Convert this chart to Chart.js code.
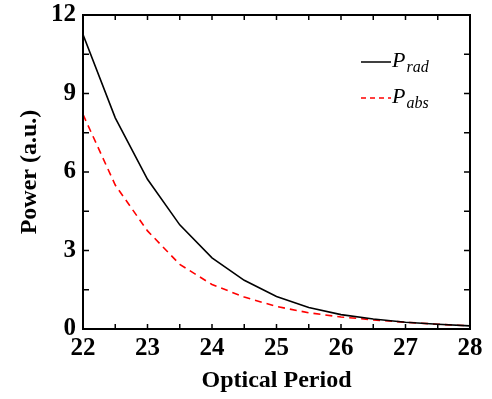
<!DOCTYPE html>
<html>
<head>
<meta charset="utf-8">
<script src="https://cdn.jsdelivr.net/npm/chart.js@4"></script>
<style>
  html, body { margin: 0; padding: 0; background: #fff; }
  #wrap { width: 492px; height: 399px; }
</style>
</head>
<body>
<div id="wrap"><canvas id="powerChart" width="492" height="399"></canvas></div>
<script>
// optical period (x) and power values
const periods = [22, 22.5, 23, 23.5, 24, 24.5, 25, 25.5, 26, 26.5, 27, 27.5, 28];
const pRad = [11.25, 8.07, 5.72, 3.98, 2.72, 1.86, 1.24, 0.82, 0.55, 0.38, 0.26, 0.18, 0.12];
const pAbs = [8.2, 5.5, 3.75, 2.47, 1.7, 1.22, 0.86, 0.62, 0.46, 0.35, 0.26, 0.18, 0.12];
const xTicks = [22, 23, 24, 25, 26, 27, 28];
const yTicks = [0, 3, 6, 9, 12];

const serif = "'Liberation Serif', 'Times New Roman', serif";

// frame box + inward ticks (major and minor) on all four sides
const framePlugin = {
  id: "frame",
  afterDraw(chart) {
    const { ctx, chartArea: a, scales } = chart;
    ctx.save();
    ctx.strokeStyle = "#000";
    ctx.lineWidth = 2;
    ctx.strokeRect(a.left, a.top, a.right - a.left, a.bottom - a.top);
    ctx.lineWidth = 1.5;
    ctx.beginPath();
    for (let v = 22; v <= 28; v += 0.5) {
      const px = scales.x.getPixelForValue(v);
      ctx.moveTo(px, a.bottom); ctx.lineTo(px, a.bottom - 5);
      ctx.moveTo(px, a.top); ctx.lineTo(px, a.top + 5);
    }
    for (let v = 0; v <= 12; v += 1.5) {
      const py = scales.y.getPixelForValue(v);
      ctx.moveTo(a.left, py); ctx.lineTo(a.left + 6, py);
      ctx.moveTo(a.right, py); ctx.lineTo(a.right - 6, py);
    }
    ctx.stroke();
    ctx.restore();
  }
};

// legend with subscripted labels
const legendPlugin = {
  id: "subLegend",
  afterDraw(chart) {
    const ctx = chart.ctx;
    const items = [
      { sub: "rad", color: "#000", dash: [], y: 62 },
      { sub: "abs", color: "#ff0000", dash: [5, 4], y: 98 }
    ];
    ctx.save();
    items.forEach(it => {
      ctx.strokeStyle = it.color;
      ctx.lineWidth = 1.5;
      ctx.setLineDash(it.dash);
      ctx.beginPath();
      ctx.moveTo(361, it.y);
      ctx.lineTo(391, it.y);
      ctx.stroke();
      ctx.setLineDash([]);
      ctx.fillStyle = "#000";
      ctx.textBaseline = "alphabetic";
      ctx.font = "italic 22px " + serif;
      ctx.fillText("P", 392, it.y + 5);
      const w = ctx.measureText("P").width;
      ctx.font = "italic 16px " + serif;
      ctx.fillText(it.sub, 392 + w + 1, it.y + 10);
    });
    ctx.restore();
  }
};

const ctx = document.getElementById("powerChart").getContext("2d");
new Chart(ctx, {
  type: "line",
  data: {
    datasets: [
      {
        label: "P_rad",
        data: periods.map((p, i) => ({ x: p, y: pRad[i] })),
        borderColor: "#000",
        borderWidth: 1.6,
        pointRadius: 0,
        tension: 0,
        fill: false
      },
      {
        label: "P_abs",
        data: periods.map((p, i) => ({ x: p, y: pAbs[i] })),
        borderColor: "#ff0000",
        borderWidth: 1.6,
        borderDash: [7, 5],
        pointRadius: 0,
        tension: 0,
        fill: false
      }
    ]
  },
  options: {
    responsive: false,
    animation: false,
    layout: { padding: { top: 15, right: 22, bottom: 0, left: 0 } },
    plugins: {
      legend: { display: false },
      tooltip: { enabled: false }
    },
    scales: {
      x: {
        type: "linear",
        min: 22,
        max: 28,
        afterBuildTicks: s => { s.ticks = xTicks.map(v => ({ value: v })); },
        afterFit: s => { s.height = 70; s.paddingLeft = 0; s.paddingRight = 0; },
        grid: { display: false, drawTicks: false },
        border: { display: false },
        ticks: {
          color: "#000",
          padding: 7,
          maxRotation: 0,
          autoSkip: false,
          font: { family: serif, size: 25, weight: "bold", lineHeight: 1 }
        },
        title: {
          display: true,
          text: "Optical Period",
          color: "#000",
          padding: { top: 2, bottom: 4 },
          font: { family: serif, size: 24, weight: "bold" }
        }
      },
      y: {
        type: "linear",
        min: 0,
        max: 12,
        afterBuildTicks: s => { s.ticks = yTicks.map(v => ({ value: v })); },
        afterFit: s => { s.width = 83; s.paddingTop = 0; s.paddingBottom = 0; },
        grid: { display: false, drawTicks: false },
        border: { display: false },
        ticks: {
          color: "#000",
          padding: 7,
          font: { family: serif, size: 25, weight: "bold", lineHeight: 1 }
        },
        title: {
          display: true,
          text: "Power (a.u.)",
          color: "#000",
          padding: { top: 15, bottom: 4 },
          font: { family: serif, size: 24, weight: "bold" }
        }
      }
    }
  },
  plugins: [framePlugin, legendPlugin]
});
</script>
</body>
</html>
